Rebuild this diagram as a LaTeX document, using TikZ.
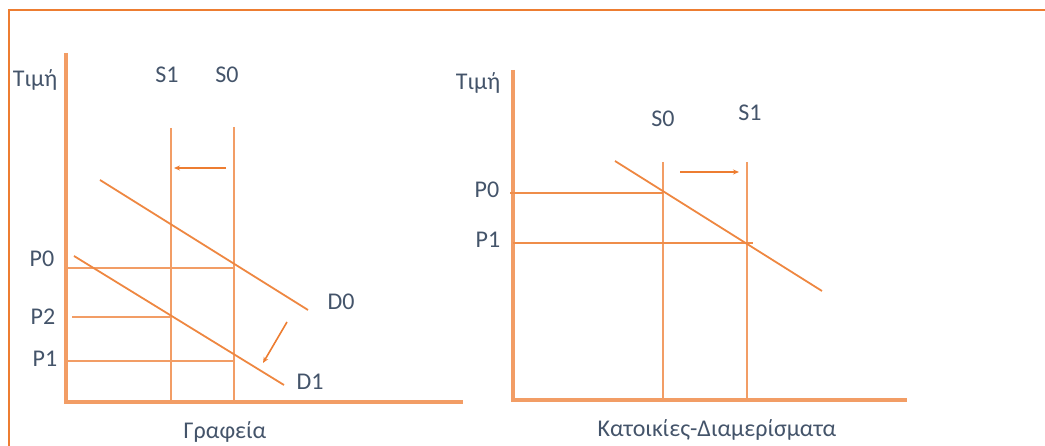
\documentclass[tikz,border=0pt]{standalone}
\usepackage{fontspec}
\setmainfont{Carlito}
\usepackage{xcolor}
\usetikzlibrary{arrows.meta}

\definecolor{accor}{HTML}{ED7D31}
\definecolor{txtgray}{HTML}{44546A}

\begin{document}
\begin{tikzpicture}[
    x=1pt, y=-1pt,
    font=\fontsize{24}{28}\selectfont,
    lbl/.style={text=txtgray, inner sep=0pt},
    axis/.style={draw=accor!75!white, line width=3.2pt},
    sline/.style={draw=accor!75!white, line width=2.9pt},
    pline/.style={draw=accor!75!white, line width=2.7pt},
    pthin/.style={draw=accor!88!white, line width=1.9pt},
    dline/.style={draw=accor!92!white, line width=1.8pt},
    shft/.style={draw=accor, line width=1.6pt, -{Stealth[length=6pt,width=5pt]}},
]
    \useasboundingbox (0,0) rectangle (1045,446);
    % ---------- frame ----------
    \coordinate (fr1) at (9,446);
    \coordinate (fr2) at (9,10);
    \coordinate (fr3) at (1045,10);
    \draw[accor, line width=2.2pt] (fr1) -- (fr2) -- (fr3);

    % ---------- left chart: offices ----------
    \coordinate (oA)   at (66,402);
    \coordinate (ytA)  at (66,53);
    \coordinate (xeA)  at (463,402);
    \coordinate (s1tA) at (171,128);
    \coordinate (s1bA) at (171,402);
    \coordinate (s0tA) at (234,127);
    \coordinate (s0bA) at (234,402);
    \coordinate (d0a)  at (100,180);
    \coordinate (d0b)  at (308,310);
    \coordinate (d1a)  at (74,256);
    \coordinate (d1b)  at (284,385);
    \coordinate (p0a)  at (66,268);
    \coordinate (p0b)  at (234,268);
    \coordinate (p2a)  at (72,317);
    \coordinate (p2b)  at (171,317);
    \coordinate (p1a)  at (66,361);
    \coordinate (p1b)  at (234,361);
    \coordinate (sArA) at (226,168);
    \coordinate (sArB) at (174,168);
    \coordinate (dArA) at (287,322);
    \coordinate (dArB) at (263,363);

    \draw[axis] (ytA) -- (oA) -- (xeA);
    \draw[sline] (s1tA) -- (s1bA);
    \draw[sline] (s0tA) -- (s0bA);
    \draw[pline] (p0a) -- (p0b);
    \draw[pline] (p2a) -- (p2b);
    \draw[pline] (p1a) -- (p1b);
    \draw[dline] (d0a) -- (d0b);
    \draw[dline] (d1a) -- (d1b);
    \draw[shft] (sArA) -- (sArB);
    \draw[shft] (dArA) -- (dArB);

    \node[lbl] (timA) at (35,80)   {Τιμή};
    \node[lbl] (s1A)  at (167,75)  {S1};
    \node[lbl] (s0A)  at (227,75)  {S0};
    \node[lbl] (p0A)  at (42,259)  {P0};
    \node[lbl] (p2A)  at (43,317)  {P2};
    \node[lbl] (p1A)  at (45,359)  {P1};
    \node[lbl] (d0A)  at (341,302) {D0};
    \node[lbl] (d1A)  at (310,382) {D1};
    \node[lbl] (grA)  at (225,432) {Γραφεία};

    % ---------- right chart: homes ----------
    \coordinate (oB)   at (513,400);
    \coordinate (ytB)  at (513,70);
    \coordinate (xeB)  at (907,400);
    \coordinate (s0tB) at (663,162);
    \coordinate (s0bB) at (663,400);
    \coordinate (s1tB) at (747,162);
    \coordinate (s1bB) at (747,400);
    \coordinate (dBa)  at (615,161);
    \coordinate (dBb)  at (822,291);
    \coordinate (q0a)  at (510,193);
    \coordinate (q0b)  at (663,193);
    \coordinate (q1a)  at (513,243);
    \coordinate (q1b)  at (753,243);
    \coordinate (sArC) at (680,172);
    \coordinate (sArD) at (739,172);

    \draw[axis] (ytB) -- (oB) -- (xeB);
    \draw[sline] (s0tB) -- (s0bB);
    \draw[sline] (s1tB) -- (s1bB);
    \draw[pthin] (q0a) -- (q0b);
    \draw[pthin] (q1a) -- (q1b);
    \draw[dline] (dBa) -- (dBb);
    \draw[shft] (sArC) -- (sArD);

    \node[lbl] (timB) at (478,83)  {Τιμή};
    \node[lbl] (s0B)  at (663,119) {S0};
    \node[lbl] (s1B)  at (750,113) {S1};
    \node[lbl] (p0B)  at (487,190) {P0};
    \node[lbl] (p1B)  at (488,240) {P1};
    \node[lbl] (katB) at (717,430) {Κατοικίες-Διαμερίσματα};
\end{tikzpicture}
\end{document}
